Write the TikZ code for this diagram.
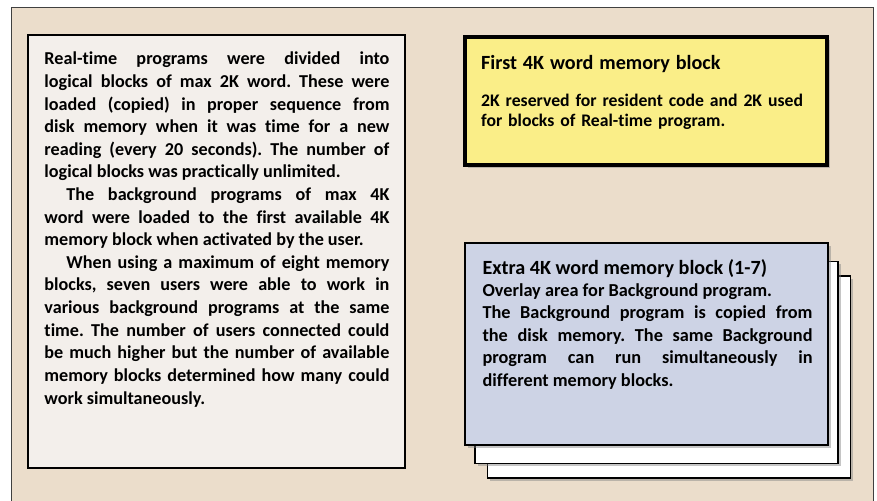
\documentclass[tikz,border=0pt]{standalone}
\usepackage{fontspec}
\setmainfont{Carlito}[Ligatures=NoCommon]
\usetikzlibrary{positioning,shadows}
\definecolor{pagebg}{HTML}{EBDDCB}
\definecolor{notebg}{HTML}{F3EFEB}
\definecolor{firstblk}{HTML}{FAEE88}
\definecolor{extrablk}{HTML}{CDD3E5}
\tikzset{
    memtext/.style={inner sep=0pt, align=justify,
        font=\bfseries\fontsize{15.5}{19.3}\selectfont,
        execute at begin node={\frenchspacing\parindent=0pt\hyphenpenalty=10000\exhyphenpenalty=10000}},
    blkshadow/.style={drop shadow={shadow xshift=2.5pt, shadow yshift=-2.5pt, opacity=0.45}},
    sheet/.style={draw=black, line width=1.2pt, fill=white, minimum width=10.89cm, minimum height=6.06cm, blkshadow},
}
\newcommand{\blktitle}[1]{{\fontsize{17.2}{19.1}\selectfont #1}}
\begin{document}
\begin{tikzpicture}[x=0.03cm,y=-0.03cm]
            \useasboundingbox (0,0) rectangle (877,500);
            % page frame
            \draw[gray!50!black, line width=0.8pt, fill=pagebg] (11.5,7.5) rectangle (873.5,520);
            % left note
            \node[draw=black, line width=1.3pt, fill=notebg, minimum width=11.31cm, minimum height=12.99cm] (notes) at (216.5,251.5) {};
            \node[memtext, text width=10.35cm, below right=0.53cm and 0.51cm of notes.north west] (notestext) {%
                Real-time programs were divided into\linebreak
                logical blocks of max 2K word. These were\linebreak
                loaded (copied) in proper sequence from\linebreak
                disk memory when it was time for a new\linebreak
                reading (every 20 seconds). The number of\linebreak
                logical blocks was practically unlimited.\par
                \hspace*{0.66cm}The background programs of max 4K\linebreak
                word were loaded to the first available 4K\linebreak
                memory block when activated by the user.\par
                \hspace*{0.66cm}When using a maximum of eight memory\linebreak
                blocks, seven users were able to work in\linebreak
                various background programs at the same\linebreak
                time. The number of users connected could\linebreak
                be much higher but the number of available\linebreak
                memory blocks determined how many could\linebreak
                work simultaneously.};
            % first block
            \node[draw=black, line width=3.5pt, fill=firstblk, minimum width=10.86cm, minimum height=3.84cm, blkshadow] (first) at (646,101) {};
            \node[memtext, align=left, text width=10cm, font=\bfseries\fontsize{15.1}{17}\selectfont, below right=0.6cm and 0.54cm of first.north west] (firsttext) {%
                \blktitle{First 4K word memory block}\\[14.5pt]
                2K reserved for resident code and 2K used\\
                for blocks of Real-time program.};
            % extra blocks
            \node[sheet] (sheetc) at (669,377) {};
            \node[sheet] (sheetb) at (656.5,362.5) {};
            \node[sheet, fill=extrablk] (extra) at (646.5,344) {};
            \node[memtext, text width=9.9cm, font=\bfseries\fontsize{15.6}{19.1}\selectfont, below right=0.5cm and 0.54cm of extra.north west] (extratext) {%
                \blktitle{Extra 4K word memory block (1-7)}\par
                Overlay area for Background program.\par
                The Background program is copied from\linebreak
                the disk memory. The same Background\linebreak
                program can run simultaneously in\linebreak
                different memory blocks.};
        \end{tikzpicture}
\end{document}
